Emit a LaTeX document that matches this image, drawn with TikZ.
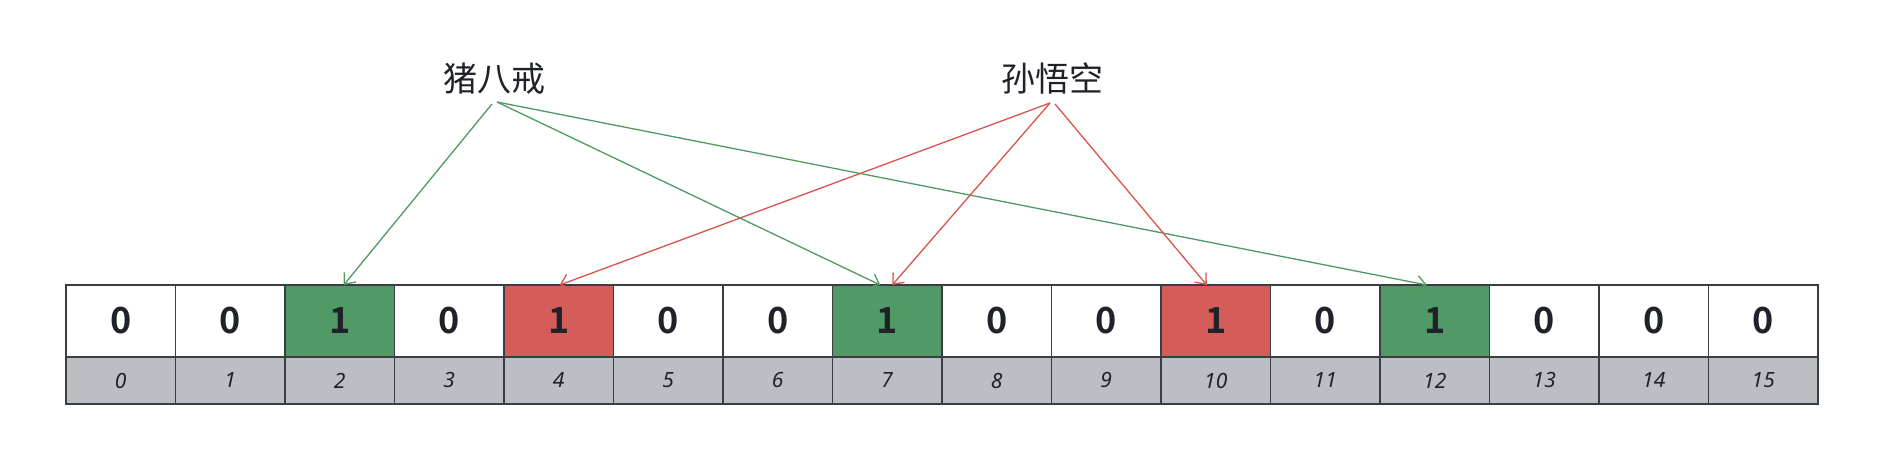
\documentclass[tikz,border=0pt]{standalone}
\usepackage{fontspec}
\setmainfont{Noto Sans}
\newfontfamily\cjk{Noto Sans CJK SC}[BoldFont={Noto Sans CJK SC Bold}]
\usetikzlibrary{arrows.meta,calc}
\definecolor{cgreen}{HTML}{519965}
\definecolor{cred}{HTML}{D45D5A}
\definecolor{cgray}{HTML}{BBBEC2}
\definecolor{cgrid}{HTML}{3A3D42}
\definecolor{ctext}{HTML}{1F2329}
\definecolor{lgreen}{HTML}{4E9A62}
\definecolor{lred}{HTML}{D9534F}
\begin{document}
\begin{tikzpicture}[x=1pt,y=1pt,
  cell/.style={draw=cgrid, line width=1.1pt, minimum width=109.5pt, minimum height=72pt,
    inner sep=0pt, outer sep=0pt, text=ctext, font=\cjk\fontsize{36}{40}\selectfont\bfseries},
  idx/.style={draw=cgrid, line width=1.1pt, fill=cgray, minimum width=109.5pt, minimum height=47pt,
    inner sep=0pt, outer sep=0pt, text=ctext, font=\fontsize{21}{24}\selectfont\itshape},
  lbl/.style={inner sep=0pt, text=ctext, font=\cjk\fontsize{34}{40}\selectfont},
  garrow/.style={lgreen, line width=1.3pt, -{Straight Barb[length=9pt,width=15pt]}},
  rarrow/.style={lred, line width=1.3pt, -{Straight Barb[length=9pt,width=15pt]}}]
\useasboundingbox (0,0) rectangle (1877,462);
\foreach \v/\f [count=\i from 0] in {0/white,0/white,1/cgreen,0/white,1/cred,0/white,0/white,1/cgreen,0/white,0/white,1/cred,0/white,1/cgreen,0/white,0/white,0/white} {
  \node[cell, fill=\f] (c\i) at ({120.75+109.5*\i},141) {\v};
  \node[idx] (n\i) at ({120.75+109.5*\i},81.5) {\i};
}
\node[lbl] (zb) at (494,383) {猪八戒};
\node[lbl] (swk) at (1052,383) {孙悟空};
\draw[garrow] ($(zb.center)+(-2,-25)$) -- ([xshift=4pt]c2.north);
\draw[garrow] ($(zb.center)+(3,-23)$) -- ([xshift=-7pt]c7.north);
\draw[garrow] ($(zb.center)+(3,-23)$) -- ([xshift=-8pt]c12.north);
\draw[rarrow] ($(swk.center)+(-2,-24)$) -- ([xshift=1pt]c4.north);
\draw[rarrow] ($(swk.center)+(-2,-24)$) -- ([xshift=5pt]c7.north);
\draw[rarrow] ($(swk.center)+(3,-25)$) -- ([xshift=-9pt]c10.north);
\end{tikzpicture}
\end{document}
